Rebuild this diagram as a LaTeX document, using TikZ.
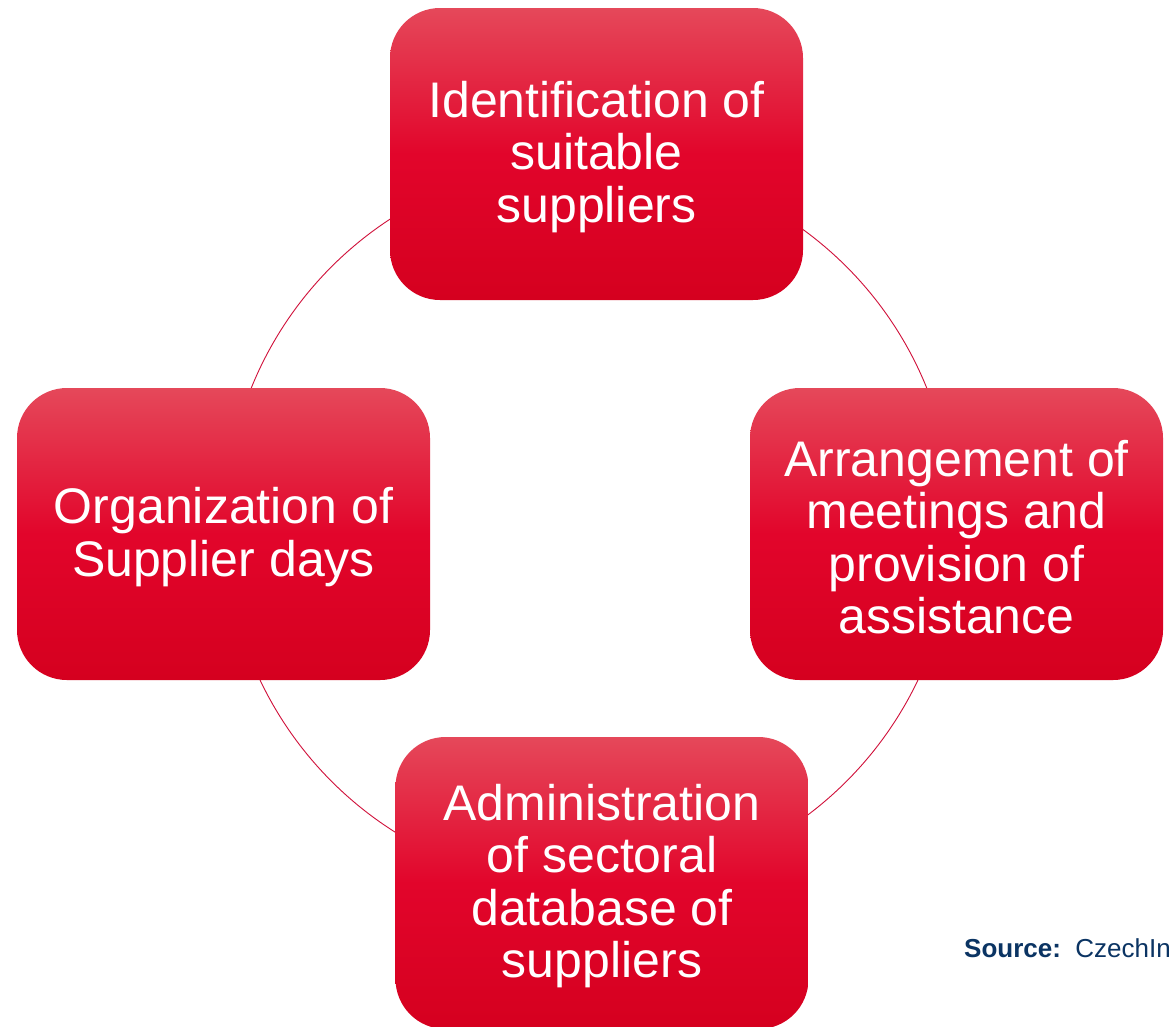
\documentclass[tikz,border=0pt]{standalone}
\usepackage{fontspec}
\setmainfont{Liberation Sans}
\definecolor{boxtop}{HTML}{E5485A}
\definecolor{boxmid}{HTML}{E2052B}
\definecolor{boxbot}{HTML}{D5001F}
\definecolor{ringred}{HTML}{D0103A}
\definecolor{srcblue}{HTML}{0B3463}
\begin{document}
\begin{tikzpicture}[x=1pt,y=-1pt,
  stepbox/.style={rectangle, rounded corners=50pt, minimum width=413pt, minimum height=292pt,
    top color=boxtop, bottom color=boxbot, middle color=boxmid, draw=none, inner sep=0pt},
  steptext/.style={text=white, align=center, inner sep=0pt, yshift=-3pt,
    font=\fontsize{50}{52.5}\selectfont},
  ring/.style={draw=ringred, line width=0.9pt}]
\useasboundingbox (0,0) rectangle (1169,1026);
\fill[white] (0,0) rectangle (1169,1026);
\coordinate (c) at (589,524);
\draw[ring] (c) circle[radius=364];
\node[stepbox] (top) at (596.5,154) {};
\node[stepbox] (right) at (956.5,534) {};
\node[stepbox] (left) at (223.5,534) {};
\node[stepbox] (bottom) at (602,883) {};
\node[steptext] (toptext) at (top.center) {Identification of\\suitable\\suppliers};
\node[steptext] (righttext) at (right.center) {Arrangement of\\meetings and\\provision of\\assistance};
\node[steptext] (lefttext) at (left.center) {Organization of\\Supplier days};
\node[steptext] (bottomtext) at (bottom.center) {Administration\\of sectoral\\database of\\suppliers};
\node[anchor=base west, text=srcblue, inner sep=0pt, font=\fontsize{26}{30}\selectfont] (src) at (964,957)
  {\textbf{Source:}\ \ CzechInvest};
\end{tikzpicture}
\end{document}
